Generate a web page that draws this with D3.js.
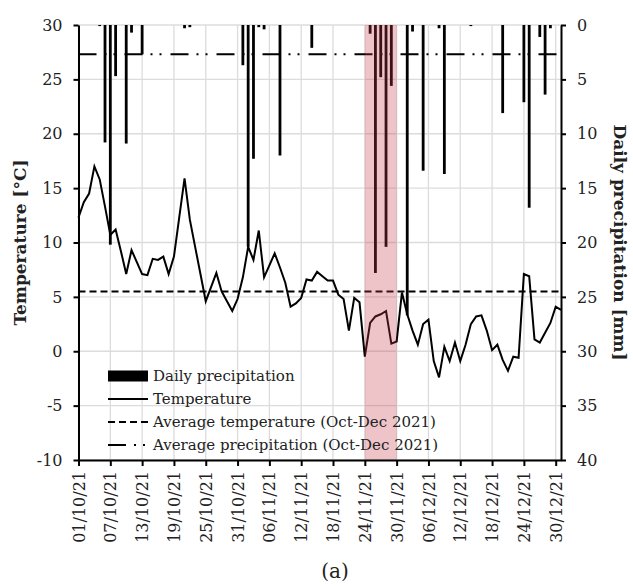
<!DOCTYPE html>
<html>
<head>
<meta charset="utf-8">
<script src="https://cdn.jsdelivr.net/npm/d3@7"></script>
<style>
body { margin: 0; background: #fff; }
svg text { font-family: "DejaVu Serif", serif; fill: #222; }
</style>
</head>
<body>
<div id="chart"></div>
<script>
// daily mean temperature, 01/10/21 .. 31/12/21
var firstDay = '2021-10-01';
var temperature = [
    12.3, 13.7, 14.5, 17.0, 15.8, 13.3, 10.7, 11.2, 9.2, 7.1,
    9.3, 8.2, 7.1, 7.0, 8.5, 8.4, 8.7, 7.1, 8.7, 12.3,
    15.9, 12.1, 9.6, 7.1, 4.6, 5.9, 7.2, 5.5, 4.6, 3.7,
    4.8, 6.8, 9.6, 8.4, 11.1, 6.8, 7.9, 9.0, 7.7, 6.3,
    4.1, 4.4, 4.9, 6.6, 6.5, 7.3, 6.9, 6.5, 6.5, 5.2,
    4.8, 1.9, 4.9, 4.5, -0.5, 2.6, 3.2, 3.4, 3.7, 0.7,
    0.9, 5.4, 3.4, 1.9, 0.6, 2.5, 2.9, -0.9, -2.4, 0.4,
    -0.9, 0.8, -0.9, 0.6, 2.5, 3.2, 3.3, 1.9, 0.1, 0.6,
    -0.8, -1.8, -0.5, -0.6, 7.1, 6.9, 1.1, 0.8, 1.7, 2.6,
    4.1, 3.8
];

// days with rain
var rainDates = [
    '2021-10-05', '2021-10-06', '2021-10-07', '2021-10-08', '2021-10-10', '2021-10-11',
    '2021-10-13', '2021-10-21', '2021-10-22', '2021-11-01', '2021-11-02', '2021-11-03',
    '2021-11-04', '2021-11-05', '2021-11-08', '2021-11-14', '2021-11-25', '2021-11-26',
    '2021-11-27', '2021-11-28', '2021-11-29', '2021-12-02', '2021-12-03', '2021-12-05',
    '2021-12-08', '2021-12-09', '2021-12-14', '2021-12-20', '2021-12-24', '2021-12-25',
    '2021-12-27', '2021-12-28', '2021-12-29'
];
var rainMm = [
    0.1, 10.8, 20.2, 4.7, 10.9, 0.7,
    2.7, 0.3, 0.2, 3.7, 20.4, 12.3,
    0.2, 0.4, 12.0, 2.1, 0.8, 22.8,
    4.8, 20.4, 5.6, 26.7, 0.6, 13.4,
    0.3, 13.7, 0.1, 8.1, 7.1, 16.8,
    1.1, 6.4, 0.3
];

var avgTemperature = 5.5;
var avgPrecipitation = 2.7;
var eventDates = ['2021-11-24', '2021-11-30'];

var tempTicks = [-10, -5, 0, 5, 10, 15, 20, 25, 30];
var rainTicks = [0, 5, 10, 15, 20, 25, 30, 35, 40];

var legendLabels = ['Daily precipitation', 'Temperature',
    'Average temperature (Oct-Dec 2021)', 'Average precipitation (Oct-Dec 2021)'];

var width = 633;
var height = 588;
var plotL = 78.5, plotR = 561, plotT = 25, plotB = 460;

var parse = d3.utcParse('%Y-%m-%d');
var fmt = d3.utcFormat('%d/%m/%y');
var start = parse(firstDay);
var end = d3.utcDay.offset(start, temperature.length - 1);

var x = d3.scaleUtc().domain([start, end]).range([plotL, plotR]);
var yT = d3.scaleLinear().domain([-10, 30]).range([plotB, plotT]);
var yP = d3.scaleLinear().domain([0, 40]).range([plotT, plotB]);

var xTicks = d3.range(0, temperature.length, 6).map(function(i) {
    return d3.utcDay.offset(start, i);
});

// plain hyphen for negatives, like the original
var plainNum = function(d) { return String(d); };

var svg = d3.select('#chart')
    .append('svg')
    .attr('width', width)
    .attr('height', height);

// grid
svg.append('g')
    .selectAll('line')
    .data(xTicks)
    .enter()
    .append('line')
    .attr('x1', function(d) { return x(d); })
    .attr('x2', function(d) { return x(d); })
    .attr('y1', plotT)
    .attr('y2', plotB)
    .attr('stroke', '#dcdcdc')
    .attr('stroke-width', 1.3);

svg.append('g')
    .selectAll('line')
    .data(tempTicks)
    .enter()
    .append('line')
    .attr('x1', plotL)
    .attr('x2', plotR)
    .attr('y1', function(d) { return yT(d); })
    .attr('y2', function(d) { return yT(d); })
    .attr('stroke', '#dcdcdc')
    .attr('stroke-width', 1.3);

// averages
svg.append('line')
    .attr('x1', plotL).attr('x2', plotR)
    .attr('y1', yT(avgTemperature)).attr('y2', yT(avgTemperature))
    .attr('stroke', '#000')
    .attr('stroke-width', 2)
    .attr('stroke-dasharray', '7,4');

svg.append('line')
    .attr('x1', plotL).attr('x2', plotR)
    .attr('y1', yP(avgPrecipitation)).attr('y2', yP(avgPrecipitation))
    .attr('stroke', '#000')
    .attr('stroke-width', 2)
    .attr('stroke-dasharray', '18,8,2,7,2,9');

// temperature
var line = d3.line()
    .x(function(d, i) { return x(d3.utcDay.offset(start, i)); })
    .y(function(d) { return yT(d); });

svg.append('path')
    .datum(temperature)
    .attr('d', line)
    .attr('fill', 'none')
    .attr('stroke', '#000')
    .attr('stroke-width', 2)
    .attr('stroke-linejoin', 'miter');

// precipitation bars hanging from the top
var barW = 2.8;
svg.append('g')
    .selectAll('rect')
    .data(rainMm)
    .enter()
    .append('rect')
    .attr('x', function(d, i) { return x(parse(rainDates[i])) - barW / 2; })
    .attr('y', yP(0))
    .attr('width', barW)
    .attr('height', function(d) { return yP(d) - yP(0); })
    .attr('fill', '#000');

// highlighted event
svg.append('rect')
    .attr('x', x(parse(eventDates[0])))
    .attr('y', plotT)
    .attr('width', x(parse(eventDates[1])) - x(parse(eventDates[0])))
    .attr('height', plotB - plotT)
    .attr('fill', 'rgb(200,60,75)')
    .attr('opacity', 0.3);

// axes
var xAxis = svg.append('g')
    .attr('transform', 'translate(0,' + plotB + ')')
    .call(d3.axisBottom(x).tickValues(xTicks).tickFormat(fmt).tickSize(6).tickSizeOuter(0));
xAxis.selectAll('text')
    .attr('transform', 'rotate(-90)')
    .attr('text-anchor', 'end')
    .attr('x', -11)
    .attr('y', 0)
    .attr('dy', '0.35em')
    .style('font-size', '16px');

var yAxisL = svg.append('g')
    .attr('transform', 'translate(' + plotL + ',0)')
    .call(d3.axisLeft(yT).tickValues(tempTicks).tickFormat(plainNum)
        .tickSize(5).tickPadding(11).tickSizeOuter(0));
yAxisL.selectAll('text').style('font-size', '16px');

var yAxisR = svg.append('g')
    .attr('transform', 'translate(' + plotR + ',0)')
    .call(d3.axisRight(yP).tickValues(rainTicks).tickFormat(plainNum)
        .tickSize(5).tickPadding(11).tickSizeOuter(0));
yAxisR.selectAll('text').style('font-size', '16px');

svg.selectAll('.domain, .tick line')
    .attr('stroke', '#000')
    .attr('stroke-width', 2);

// axis titles
svg.append('text')
    .attr('transform', 'translate(20,' + ((plotT + plotB) / 2) + ')rotate(-90)')
    .attr('text-anchor', 'middle')
    .attr('dy', '0.35em')
    .style('font-size', '17px')
    .style('font-weight', 'bold')
    .text('Temperature [°C]');

svg.append('text')
    .attr('transform', 'translate(620,' + ((plotT + plotB) / 2) + ')rotate(90)')
    .attr('text-anchor', 'middle')
    .attr('dy', '0.35em')
    .style('font-size', '17px')
    .style('font-weight', 'bold')
    .text('Daily precipitation [mm]');

svg.append('text')
    .attr('x', 335)
    .attr('y', 578)
    .attr('text-anchor', 'middle')
    .style('font-size', '20px')
    .text('(a)');

// legend
var legend = svg.selectAll('.legend')
    .data(legendLabels)
    .enter()
    .append('g')
    .attr('class', 'legend')
    .attr('transform', function(d, i) {
        return 'translate(108,' + (376 + i * 23) + ')';
    });

legend.filter(function(d, i) { return i === 0; })
    .append('rect')
    .attr('x', 0).attr('y', -5.5)
    .attr('width', 40).attr('height', 11)
    .attr('fill', '#000');

legend.filter(function(d, i) { return i > 0; })
    .append('line')
    .attr('x1', 0).attr('x2', 40)
    .attr('y1', 0).attr('y2', 0)
    .attr('stroke', '#000')
    .attr('stroke-width', 2)
    .attr('stroke-dasharray', function(d, i) {
        return [null, '7,4', '18,8,2,7,2,9'][i];
    });

legend.append('text')
    .attr('x', 45)
    .attr('dy', '0.35em')
    .style('font-size', '15px')
    .text(function(d) { return d; });
</script>
</body>
</html>
